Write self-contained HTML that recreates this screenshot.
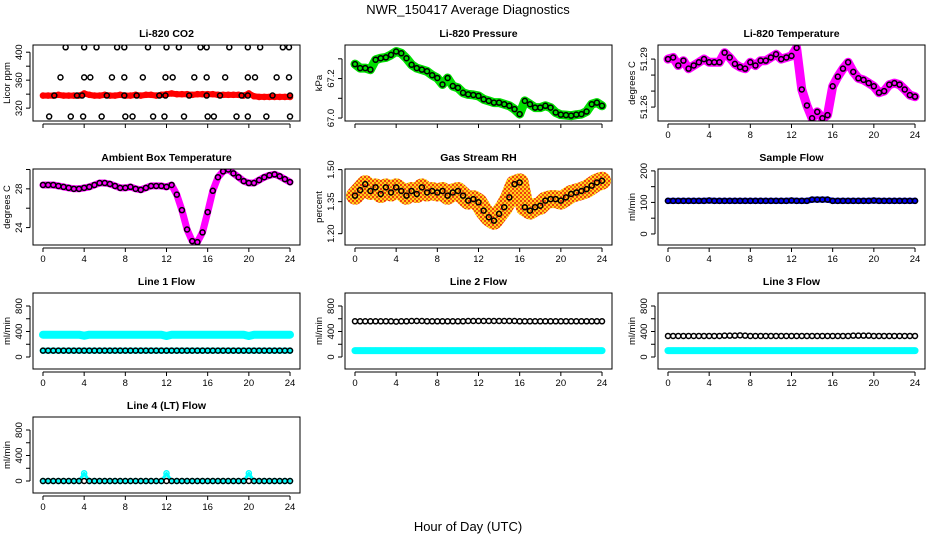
<!DOCTYPE html>
<html><head><meta charset="utf-8">
<style>
html,body{margin:0;padding:0;background:#fff;}
svg{display:block;font-family:"Liberation Sans",Arial,sans-serif;}
</style></head>
<body>
<svg id="chart" width="936" height="540" viewBox="0 0 936 540">
<defs>
<pattern id="rhpat" width="4" height="4" patternUnits="userSpaceOnUse">
<rect width="4" height="4" fill="#ffd21a"/>
<rect x="0" y="0" width="2" height="2" fill="#f03a10"/>
<rect x="2" y="2" width="2" height="2" fill="#f06010"/>
</pattern>
</defs>
<text x="468" y="14" text-anchor="middle" font-size="13">NWR_150417  Average Diagnostics</text>
<text x="468" y="531" text-anchor="middle" font-size="13">Hour of Day (UTC)</text>
</svg>
<script>
const HOURS = [0,0.5,1,1.5,2,2.5,3,3.5,4,4.5,5,5.5,6,6.5,7,7.5,8,8.5,9,9.5,10,10.5,11,11.5,12,12.5,13,13.5,14,14.5,15,15.5,16,16.5,17,17.5,18,18.5,19,19.5,20,20.5,21,21.5,22,22.5,23,23.5,24];
const X_TICKS = [0,4,8,12,16,20,24];

const co2Red = [338,338,338,339,338,338,338,338,341,339,338,338,339,338,338,339,338,338,339,338,339,339,338,339,340,341,340,340,340,339,340,340,340,340,339,339,339,339,339,338,341,337,336,336,336,336,336,336,336];
const co2BlackHours = [2.2,4.0,5.2,7.2,7.9,10.2,12.0,13.2,15.3,15.9,18.1,19.9,21.1,23.3,23.9, 1.7,4.0,4.6,6.7,7.9,9.7,11.9,12.6,14.7,15.9,17.7,19.9,20.6,22.7,23.9, 0.6,2.7,3.9,5.7,8.0,8.7,10.7,11.8,13.7,16.0,16.6,18.8,19.9,21.7,24.0, 1.1,3.3,3.8,6.2,7.9,9.1,11.3,11.9,14.2,15.9,17.2,19.3,19.9,22.3,24.0];
const co2BlackVals = [407,407,407,407,407,407,407,407,407,407,407,407,407,407,407, 364,364,364,364,364,364,364,364,364,364,364,364,364,364,364, 308,308,308,308,308,308,308,308,308,308,308,308,308,308,308, 338,338,338,338,338,338,338,338,338,338,338,338,338,338,338];

const pressureVals = [67.273,67.253,67.253,67.245,67.295,67.303,67.307,67.32,67.337,67.328,67.303,67.27,67.253,67.245,67.237,67.217,67.203,67.17,67.203,67.162,67.153,67.128,67.12,67.117,67.112,67.095,67.087,67.078,67.078,67.07,67.062,67.045,67.02,67.087,67.07,67.053,67.053,67.062,67.053,67.028,67.017,67.015,67.012,67.017,67.02,67.033,67.07,67.078,67.062];

const tempVals = [51.290,51.291,51.286,51.289,51.284,51.286,51.288,51.290,51.288,51.288,51.288,51.294,51.291,51.287,51.285,51.284,51.288,51.286,51.289,51.289,51.291,51.293,51.290,51.291,51.292,51.297,51.271,51.261,51.253,51.257,51.253,51.255,51.273,51.279,51.284,51.288,51.282,51.278,51.277,51.275,51.273,51.269,51.270,51.274,51.275,51.274,51.271,51.2675,51.2665];

const ambientVals = [28.4,28.4,28.4,28.3,28.2,28.1,28.0,28.0,28.1,28.2,28.4,28.6,28.6,28.5,28.3,28.1,28.1,28.2,28.0,27.9,28.1,28.3,28.3,28.3,28.2,28.4,27.4,25.8,23.8,22.6,22.5,23.5,25.6,27.8,29.2,29.8,30.0,29.6,29.2,28.8,28.6,28.6,28.9,29.2,29.4,29.5,29.3,29.0,28.7];

const rhVals = [1.378,1.404,1.432,1.40,1.417,1.386,1.417,1.393,1.417,1.40,1.378,1.40,1.386,1.417,1.393,1.40,1.393,1.40,1.378,1.393,1.40,1.378,1.355,1.362,1.347,1.308,1.277,1.261,1.293,1.324,1.37,1.432,1.44,1.324,1.308,1.324,1.331,1.355,1.362,1.362,1.355,1.37,1.386,1.393,1.40,1.409,1.425,1.44,1.448];

const sampleVals = [105,105,105,105,105,105,105,105,106,105,105,105,105,105,105,105,105,105,105,105,105,105,105,105,106,105,105,105,109,109,109,109,105,105,105,105,105,105,105,105,106,105,105,105,105,105,105,105,105];

const line1Cyan = [350,350,350,350,350,350,350,350,335,350,350,350,350,350,350,350,350,350,350,350,350,350,350,350,330,350,350,350,350,350,350,350,350,350,350,350,350,350,350,350,330,350,350,350,350,350,350,350,350];
const line1Black = [100,100,100,100,100,100,100,100,100,100,100,100,100,100,100,100,100,100,100,100,100,100,100,100,100,100,100,100,100,100,100,100,100,100,100,100,100,100,100,100,100,100,100,100,100,100,100,100,100];
const line2Black = [560,560,560,560,560,560,560,560,555,560,560,565,565,565,560,560,560,560,560,560,560,560,565,565,565,565,565,565,565,565,565,565,560,560,560,560,560,560,560,560,560,560,560,560,560,560,560,560,560];
const line2Cyan = [100,100,100,100,100,100,100,100,100,100,100,100,100,100,100,100,100,100,100,100,100,100,100,100,100,100,100,100,100,100,100,100,100,100,100,100,100,100,100,100,100,100,100,100,100,100,100,100,100];
const line3Black = [330,330,330,330,330,330,330,330,330,330,330,335,335,335,340,335,330,330,330,330,330,330,330,330,330,330,330,330,330,330,330,330,330,330,330,330,335,335,335,335,330,330,330,330,330,330,330,330,330];
const line3Cyan = [100,100,100,100,100,100,100,100,100,100,100,100,100,100,100,100,100,100,100,100,100,100,100,100,100,100,100,100,100,100,100,100,100,100,100,100,100,100,100,100,100,100,100,100,100,100,100,100,100];
const line4Black = [0,0,0,0,0,0,0,0,0,0,0,0,0,0,0,0,0,0,0,0,0,0,0,0,0,0,0,0,0,0,0,0,0,0,0,0,0,0,0,0,0,0,0,0,0,0,0,0,0];
const line4Cyan = [0,0,0,0,0,0,0,0,120,0,0,0,0,0,0,0,0,0,0,0,0,0,0,0,120,0,0,0,0,0,0,0,0,0,0,0,0,0,0,0,120,0,0,0,0,0,0,0,0];

const NS = "http://www.w3.org/2000/svg";
const svg = document.getElementById('chart');
const COLS = [33,345,658], ROWS = [45,169,293,417], PW = 267, PH = 76;
const XDOM = [-0.97, 24.97];

function mk(tag, attrs, parent){
  const e = document.createElementNS(NS, tag);
  for (const k in attrs) e.setAttribute(k, attrs[k]);
  (parent||svg).appendChild(e);
  return e;
}

function panel(cfg){
  const L = COLS[cfg.col], T = ROWS[cfg.row];
  const g = mk('g', {});
  
  
  const sx = h => L + (h - XDOM[0]) / (XDOM[1] - XDOM[0]) * PW;
  const sy = v => T + PH - (v - cfg.dom[0]) / (cfg.dom[1] - cfg.dom[0]) * PH;
  const t = mk('text', {x: L + PW/2, y: T - 8, 'text-anchor':'middle', 'font-size':'10.5', 'font-weight':'bold'}, g);
  t.textContent = cfg.title;
  
  
  const clip = 'clip-' + cfg.name;
  const cp = mk('clipPath', {id: clip}, g);
  mk('rect', {x: L, y: T, width: PW, height: PH}, cp);
  const plot = mk('g', {'clip-path': 'url(#' + clip + ')'}, g);
  (cfg.bands||[]).forEach(b => {
    const pts = b.vals.map((v,i) => sx(HOURS[i]).toFixed(1) + ',' + sy(v).toFixed(1)).join(' ');
    const pl = mk('polyline', {points: pts, fill:'none', stroke: b.color, 'stroke-width': b.w, 'stroke-linejoin':'round', 'stroke-linecap':'round'}, plot);
    
    
    if (!b.noPts) {
      b.vals.forEach((v,i) => {
        const c = mk('circle', {cx: sx(HOURS[i]), cy: sy(v), r: 2.6, fill:'none', stroke: b.color, 'stroke-width': 1.4}, plot);
        
        
      });
    }
  });
  (cfg.points||[]).forEach(p => {
    const hs = p.hours || HOURS;
    p.vals.forEach((v,i) => {
      const c = mk('circle', {cx: sx(hs[i]), cy: sy(v), r: 2.5, fill:'none', stroke: p.color, 'stroke-width': 1.5}, plot);
      
      
    });
  });
  const box = mk('rect', {x: L, y: T, width: PW, height: PH, fill:'none', stroke:'#000', 'stroke-width':1}, g);
  
  
  const yb = T + PH + 3;
  mk('line', {x1: sx(0), x2: sx(24), y1: yb, y2: yb, stroke:'#000'}, g);
  X_TICKS.forEach(h => {
    mk('line', {x1: sx(h), x2: sx(h), y1: yb, y2: yb + 4, stroke:'#000'}, g);
    if (cfg.xlabels) {
      const tx = mk('text', {x: sx(h), y: yb + 14, 'text-anchor':'middle', 'font-size':'9.5'}, g);
      tx.textContent = h;
      
      
    }
  });
  const xa = L - 3;
  mk('line', {x1: xa, x2: xa, y1: sy(cfg.ticks[0]), y2: sy(cfg.ticks[cfg.ticks.length-1]), stroke:'#000'}, g);
  cfg.ticks.forEach(v => mk('line', {x1: xa - 4, x2: xa, y1: sy(v), y2: sy(v), stroke:'#000'}, g));
  cfg.labels.forEach((lab, i) => {
    const y = sy(cfg.labelVals[i]);
    const tx = mk('text', {x: xa - 8, y: y, 'text-anchor':'middle', 'font-size':'9.5', transform: 'rotate(-90 ' + (xa - 8) + ' ' + y + ')'}, g);
    tx.textContent = lab;
    
    
  });
  const yt = mk('text', {x: L - 23, y: T + PH/2, 'text-anchor':'middle', 'font-size':'9.5', transform: 'rotate(-90 ' + (L - 23) + ' ' + (T + PH/2) + ')'}, g);
  yt.textContent = cfg.ylab;
  
  
}

const FLOW_TICKS = [0,200,400,600,800], FLOW_LV = [0,400,800], FLOW_LAB = ['0','400','800'];
panel({name:'co2', col:0, row:0, title:'Li-820 CO2', ylab:'Licor ppm', dom:[301.6,410.3], ticks:[320,340,360,380,400], labelVals:[320,360,400], labels:['320','360','400'], xlabels:false,
  bands:[{vals:co2Red, color:'#ff0000', w:6, label:'red'}], points:[{hours:co2BlackHours, vals:co2BlackVals, color:'#000', label:'black'}]});
panel({name:'pressure', col:1, row:0, title:'Li-820 Pressure', ylab:'kPa', dom:[66.985,67.37], ticks:[67.0,67.1,67.2,67.3], labelVals:[67.0,67.2], labels:['67.0','67.2'], xlabels:false,
  bands:[{vals:pressureVals, color:'#00e000', w:9, label:'green'}], points:[{vals:pressureVals, color:'#000', label:'black'}]});
panel({name:'temperature', col:2, row:0, title:'Li-820 Temperature', ylab:'degrees C', dom:[51.2513,51.2988], ticks:[51.26,51.27,51.28,51.29], labelVals:[51.26,51.29], labels:['51.26','51.29'], xlabels:true,
  bands:[{vals:tempVals, color:'#ff00ff', w:9, label:'magenta'}], points:[{vals:tempVals, color:'#000', label:'black'}]});
panel({name:'ambient', col:0, row:1, title:'Ambient Box Temperature', ylab:'degrees C', dom:[22.2,30.05], ticks:[24,26,28,30], labelVals:[24,28], labels:['24','28'], xlabels:true,
  bands:[{vals:ambientVals, color:'#ff00ff', w:7, label:'magenta'}], points:[{vals:ambientVals, color:'#000', label:'black'}]});
panel({name:'gas-rh', col:1, row:1, title:'Gas Stream RH', ylab:'percent', dom:[1.147,1.503], ticks:[1.20,1.35,1.50], labelVals:[1.20,1.35,1.50], labels:['1.20','1.35','1.50'], xlabels:true,
  bands:[{vals:rhVals, color:'url(#rhpat)', w:18, label:'orange', noPts:true}], points:[{vals:rhVals, color:'#000', label:'black'}]});
panel({name:'sample-flow', col:2, row:1, title:'Sample Flow', ylab:'ml/min', dom:[-35,206], ticks:[0,50,100,150,200], labelVals:[0,100,200], labels:['0','100','200'], xlabels:true,
  bands:[{vals:sampleVals, color:'#0000ff', w:6, label:'blue'}], points:[{vals:sampleVals, color:'#000', label:'black'}]});
panel({name:'line1-flow', col:0, row:2, title:'Line 1 Flow', ylab:'ml/min', dom:[-188,1004], ticks:FLOW_TICKS, labelVals:FLOW_LV, labels:FLOW_LAB, xlabels:true,
  bands:[{vals:line1Cyan, color:'#00ffff', w:8, label:'cyan'},{vals:line1Black, color:'#00ffff', w:6, label:'cyan-low'}], points:[{vals:line1Black, color:'#000', label:'black'}]});
panel({name:'line2-flow', col:1, row:2, title:'Line 2 Flow', ylab:'ml/min', dom:[-188,1004], ticks:FLOW_TICKS, labelVals:FLOW_LV, labels:FLOW_LAB, xlabels:true,
  bands:[{vals:line2Cyan, color:'#00ffff', w:7, label:'cyan'}], points:[{vals:line2Black, color:'#000', label:'black'}]});
panel({name:'line3-flow', col:2, row:2, title:'Line 3 Flow', ylab:'ml/min', dom:[-188,1004], ticks:FLOW_TICKS, labelVals:FLOW_LV, labels:FLOW_LAB, xlabels:true,
  bands:[{vals:line3Cyan, color:'#00ffff', w:7, label:'cyan'}], points:[{vals:line3Black, color:'#000', label:'black'}]});
panel({name:'line4-flow', col:0, row:3, title:'Line 4 (LT) Flow', ylab:'ml/min', dom:[-188,1004], ticks:FLOW_TICKS, labelVals:FLOW_LV, labels:FLOW_LAB, xlabels:true,
  bands:[{vals:line4Cyan, color:'#00ffff', w:3, label:'cyan'}], points:[{vals:line4Black, color:'#000', label:'black'}]});
</script>
</body></html>
